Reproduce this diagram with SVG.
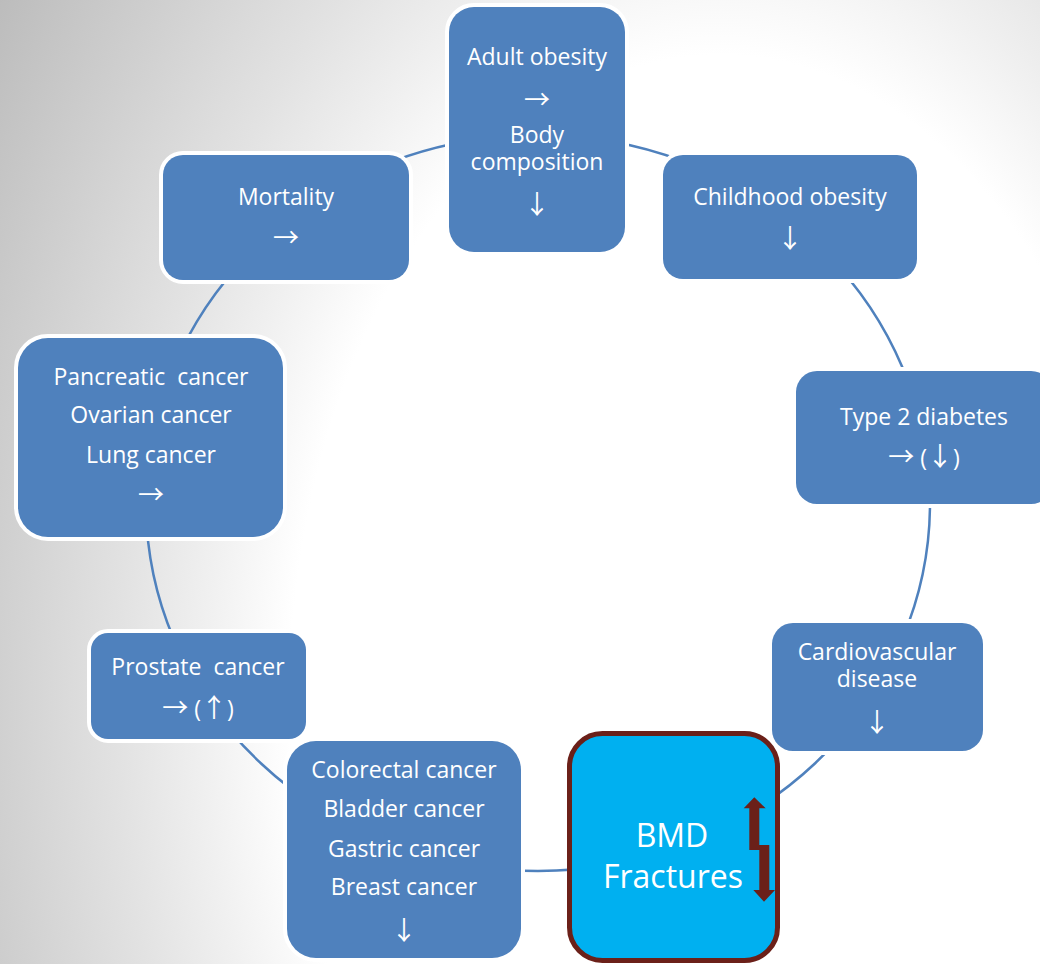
<svg xmlns="http://www.w3.org/2000/svg" width="1040" height="964" viewBox="0 0 1040 964">
  <defs>
    <radialGradient id="bg" gradientUnits="userSpaceOnUse" cx="720" cy="700" r="860" gradientTransform="translate(720,700) scale(1,1.5) translate(-720,-700)">
      <stop offset="0" stop-color="#ffffff"/>
      <stop offset="0.5" stop-color="#ffffff"/>
      <stop offset="0.6" stop-color="#f0f0f0"/>
      <stop offset="0.7" stop-color="#e2e2e2"/>
      <stop offset="0.84" stop-color="#d0d0d0"/>
      <stop offset="1" stop-color="#bcbcbc"/>
    </radialGradient>
    <style>
      .node { fill: #4F81BD; stroke: #ffffff; stroke-width: 8; paint-order: stroke; }
      .t { font-family: "Open Sans", "Noto Sans CJK JP", sans-serif; font-size: 23px; fill: #ffffff; text-anchor: middle; white-space: pre; }
      .ar { font-family: "Noto Sans CJK JP", "DejaVu Sans", sans-serif; font-size: 26px; }
      .conn { fill: none; stroke: #4F81BD; stroke-width: 2.5; }
      .bmd { fill: #00B0F0; stroke: #6B2019; stroke-width: 5; }
      .bt { font-family: "Open Sans", sans-serif; font-size: 32px; fill: #ffffff; text-anchor: middle; }
    </style>
  </defs>
  <rect x="0" y="0" width="1040" height="964" fill="url(#bg)"/>

  <g id="connectors">
    <ellipse class="conn" cx="538" cy="503" rx="392" ry="368"/>
  </g>

  <g id="adult-obesity">
    <rect class="node" x="449" y="7" width="176" height="245" rx="25"/>
    <text class="t" x="537" y="65">Adult obesity</text>
    <text class="t ar" x="537" y="109">→</text>
    <text class="t" x="537" y="143">Body</text>
    <text class="t" x="537" y="170">composition</text>
    <text class="t ar" x="537" y="214">↓</text>
  </g>

  <g id="mortality">
    <rect class="node" x="163" y="155" width="246" height="125" rx="20"/>
    <text class="t" x="286" y="205">Mortality</text>
    <text class="t ar" x="286" y="247">→</text>
  </g>

  <g id="childhood-obesity">
    <rect class="node" x="663" y="155" width="254" height="124" rx="20"/>
    <text class="t" x="790" y="205">Childhood obesity</text>
    <text class="t ar" x="790" y="248">↓</text>
  </g>

  <g id="type2-diabetes">
    <rect class="node" x="796" y="371" width="256" height="133" rx="21"/>
    <text class="t" x="924" y="425">Type 2 diabetes</text>
    <text class="t" x="924" y="466"><tspan class="ar">→</tspan> (<tspan class="ar">↓</tspan>)</text>
  </g>

  <g id="cardiovascular">
    <rect class="node" x="772" y="623" width="211" height="128" rx="21"/>
    <text class="t" x="877" y="660">Cardiovascular</text>
    <text class="t" x="877" y="687">disease</text>
    <text class="t ar" x="877" y="732">↓</text>
  </g>

  <g id="bmd-fractures">
    <rect class="bmd" x="569.5" y="733.5" width="208" height="227" rx="33"/>
    <text class="bt" x="672" y="847">BMD</text>
    <text class="bt" x="673" y="888">Fractures</text>
    <polygon fill="#6B2019" points="754.3,797.3 765.7,808.3 759.3,808.3 759.3,845 769.3,845 769.3,890 775,890 764,901.7 753.3,890 759.3,890 759.3,850 749.3,850 749.3,808.3 743.7,808.3"/>
  </g>

  <g id="colorectal">
    <rect class="node" x="287" y="741" width="234" height="217" rx="29"/>
    <text class="t" x="404" y="778">Colorectal cancer</text>
    <text class="t" x="404" y="817">Bladder cancer</text>
    <text class="t" x="404" y="857">Gastric cancer</text>
    <text class="t" x="404" y="895">Breast cancer</text>
    <text class="t ar" x="404" y="940">↓</text>
  </g>

  <g id="prostate">
    <rect class="node" x="91" y="633" width="215" height="106" rx="17"/>
    <text class="t" x="198" y="675">Prostate  cancer</text>
    <text class="t" x="198" y="717"><tspan class="ar">→</tspan> (<tspan class="ar">↑</tspan>)</text>
  </g>

  <g id="pancreatic">
    <rect class="node" x="18" y="338" width="265" height="199" rx="30"/>
    <text class="t" x="151" y="385">Pancreatic  cancer</text>
    <text class="t" x="151" y="423">Ovarian cancer</text>
    <text class="t" x="151" y="463">Lung cancer</text>
    <text class="t ar" x="151" y="504">→</text>
  </g>
</svg>
